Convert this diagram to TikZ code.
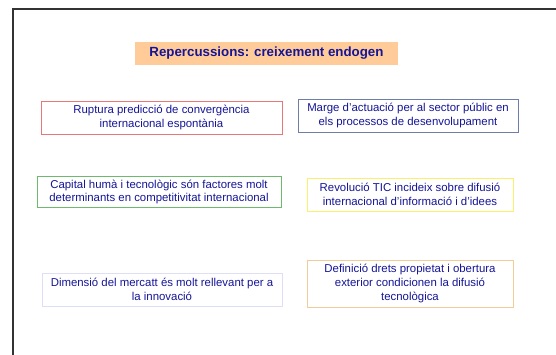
\documentclass[tikz,border=0pt]{standalone}
\usepackage{fontspec}
\setmainfont{Liberation Sans}
\usepackage{xcolor}
\usetikzlibrary{positioning}
\definecolor{txtblue}{RGB}{20,20,150}
\definecolor{peach}{RGB}{255,204,153}

\begin{document}
\begin{tikzpicture}
	[x=1pt,y=-1pt,
	bx/.style={draw,line width=0.9pt,align=center,inner sep=2pt,text=txtblue,font=\fontsize{11.4}{13.6}\selectfont},
	font=\small]
	\useasboundingbox (0,0) rectangle (556,355);
	%FRAME
	\coordinate (fbl) at (13,355);
	\coordinate (ftl) at (13,9);
	\coordinate (ftr) at (556,9);
	\draw[line width=1.4pt,black!80] (fbl) -- (ftl) -- (ftr);
	\begin{scope}[every node/.style={bx}]
	%TITLE
	\node[draw=none,fill=peach,minimum width=263pt,minimum height=23pt,font=\fontsize{13.3}{15}\selectfont\bfseries] (title) at (266.5,53.5) {Repercussions: creixement endogen};
	%LEFT
	\node[draw={rgb,255:red,232;green,120;blue,120},minimum width=241pt,minimum height=33pt] (rup) at (161.5,117.5) {Ruptura predicció de convergència\\internacional espontània};
	\node[draw={rgb,255:red,110;green,185;blue,110},minimum width=244pt,minimum height=31pt] (cap) at (159,192) {Capital humà i tecnològic són factores molt\\determinants en competitivitat internacional};
	\node[draw={rgb,255:red,222;green,222;blue,245},minimum width=240pt,minimum height=33pt] (dim) at (162,289.5) {Dimensió del mercatt és molt rellevant per a\\la innovació};
	%RIGHT
	\node[draw={rgb,255:red,110;green,125;blue,170},minimum width=220pt,minimum height=33pt] (mar) at (408,115.5) {Marge d'actuació per al sector públic en\\els processos de desenvolupament};
	\node[draw={rgb,255:red,250;green,240;blue,110},minimum width=206pt,minimum height=33pt] (tic) at (410,194.5) {Revolució TIC incideix sobre difusió\\internacional d'informació i d'idees};
	\node[draw={rgb,255:red,240;green,205;blue,150},minimum width=206pt,minimum height=47pt] (def) at (410,283.5) {Definició drets propietat i obertura\\exterior condicionen la difusió\\tecnològica};
	\end{scope}
\end{tikzpicture}
\end{document}
